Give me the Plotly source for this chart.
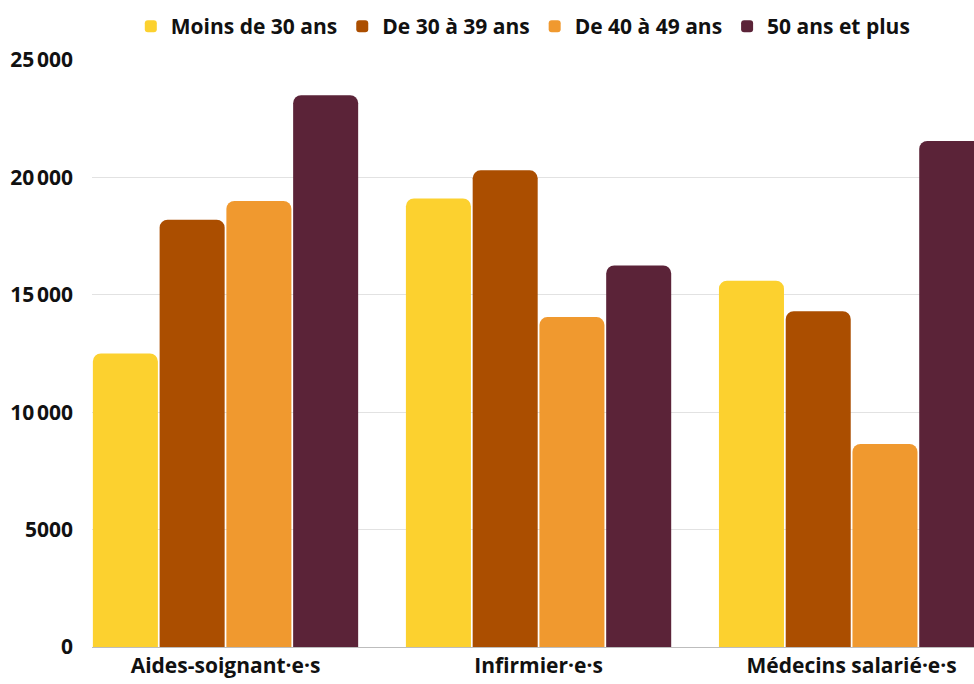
import plotly.graph_objects as go

categories = ["Aides-soignant·e·s", "Infirmier·e·s", "Médecins salarié·e·s"]
series_names = ["Moins de 30 ans", "De 30 à 39 ans", "De 40 à 49 ans", "50 ans et plus"]
moins_30 = [12500, 19100, 15600]
de_30_39 = [18200, 20300, 14300]
de_40_49 = [19000, 14050, 8650]
plus_50 = [23500, 16250, 21550]
tick_vals = [0, 5000, 10000, 15000, 20000, 25000]
tick_text = ["0", "5000", "10\u202f000", "15\u202f000", "20\u202f000", "25\u202f000"]

colors = ["#fcd12f", "#ab4e00", "#f0992f", "#5b2338"]
values = [moins_30, de_30_39, de_40_49, plus_50]

fig = go.Figure()
for name, vals, col in zip(series_names, values, colors):
    fig.add_trace(go.Bar(x=categories, y=vals, name=name,
                         marker=dict(color=col, cornerradius=8, line=dict(width=0))))

font_family = "Open Sans"
fig.update_layout(
    width=974, height=684,
    margin=dict(l=92, r=0, t=60, b=37, autoexpand=False),
    paper_bgcolor="white", plot_bgcolor="white",
    barmode="group", bargap=0.147, bargroupgap=0.026,
    font=dict(family=font_family, size=20, color="#111111"),
    showlegend=True,
    legend=dict(orientation="h", x=0.489, xanchor="center",
                y=1.0 + 13 / 587, yanchor="bottom",
                font=dict(family=font_family, size=21, color="#111111", weight="bold"),
                itemwidth=30, traceorder="normal", itemclick=False),
    xaxis=dict(range=[-0.4265, 2.391], showgrid=False, showline=False, ticks="",
               tickfont=dict(family=font_family, size=21, color="#111111", weight="bold"),
               ticklabelstandoff=4),
    yaxis=dict(range=[0, 25000], tickvals=tick_vals, ticktext=tick_text,
               showgrid=True, gridcolor="#e2e2e2", gridwidth=1,
               zeroline=True, zerolinecolor="#bdbdbd", zerolinewidth=1,
               tickfont=dict(family=font_family, size=21, color="#111111", weight="bold"),
               ticklabelstandoff=18),
)

fig.write_html("out.html")
